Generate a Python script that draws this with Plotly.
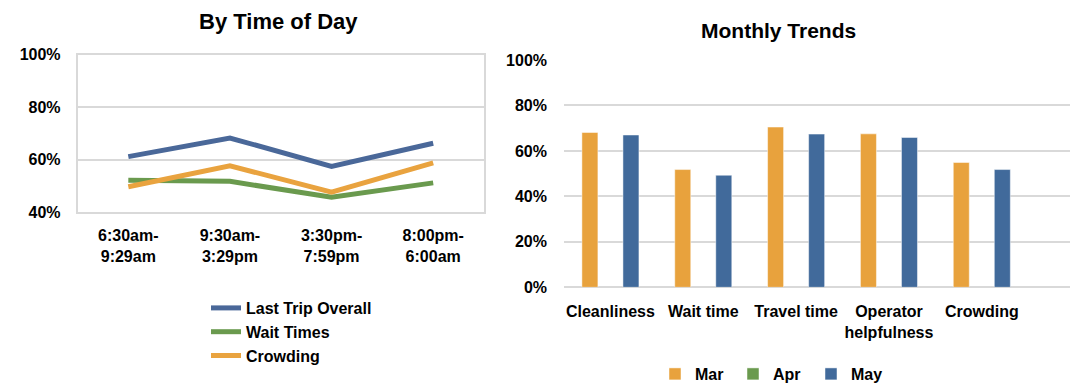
import plotly.graph_objects as go

# ---- Data ----
time_slots = ["6:30am-<br>9:29am", "9:30am-<br>3:29pm", "3:30pm-<br>7:59pm", "8:00pm-<br>6:00am"]
last_trip_overall = [0.612, 0.683, 0.575, 0.663]
wait_times = [0.522, 0.518, 0.457, 0.512]
crowding_tod = [0.497, 0.577, 0.477, 0.588]

metrics = ["Cleanliness", "Wait time", "Travel time", "Operator<br>helpfulness", "Crowding"]
mar_vals = [0.681, 0.518, 0.705, 0.675, 0.549]
apr_vals = [None, None, None, None, None]
may_vals = [0.670, 0.493, 0.674, 0.659, 0.518]

# ---- Styles ----
BLUE_LINE = "#4A6899"
GREEN_LINE = "#6A9A4E"
ORANGE_LINE = "#E9A33F"
BAR_ORANGE = "#E8A23D"
BAR_GREEN = "#6A9A4E"
BAR_BLUE = "#416A9B"
GRID = "#D9D9D9"
FONT = "Liberation Sans, Arial, sans-serif"

fig = go.Figure()

line_series = [
    ("Last Trip Overall", last_trip_overall, BLUE_LINE),
    ("Wait Times", wait_times, GREEN_LINE),
    ("Crowding", crowding_tod, ORANGE_LINE),
]
for name, vals, col in line_series:
    fig.add_trace(go.Scatter(
        x=time_slots, y=vals, name=name, mode="lines",
        line=dict(color=col, width=5),
        xaxis="x", yaxis="y", legend="legend",
    ))

bar_series = [
    ("Mar", mar_vals, BAR_ORANGE),
    ("Apr", apr_vals, BAR_GREEN),
    ("May", may_vals, BAR_BLUE),
]
for name, vals, col in bar_series:
    fig.add_trace(go.Bar(
        x=metrics, y=vals, name=name,
        marker=dict(color=col, line=dict(color="rgba(255,255,255,0.6)", width=0.8)),
        xaxis="x2", yaxis="y2", legend="legend2",
    ))

W, H = 1070, 383

fig.update_layout(
    width=W, height=H,
    margin=dict(l=0, r=0, t=0, b=0, autoexpand=False),
    paper_bgcolor="white", plot_bgcolor="white",
    font=dict(family=FONT, size=16, color="#000000", weight="bold"),
    barmode="group", bargap=0.337, bargroupgap=0.22,
    showlegend=True,
    xaxis=dict(
        domain=[77.5 / W, 484 / W], anchor="y", automargin=False,
        showgrid=False, showline=True, mirror=True, linecolor=GRID, linewidth=1.5,
        ticks="", ticklabelstandoff=8, tickfont=dict(size=16),
        range=[-0.5, 3.5],
    ),
    yaxis=dict(
        domain=[1 - 212.3 / H, 1 - 54.7 / H], anchor="x", automargin=False,
        range=[0.4, 1.0], dtick=0.2, tickformat=".0%",
        showgrid=True, gridcolor=GRID, gridwidth=1.5,
        showline=True, mirror=True, linecolor=GRID, linewidth=1.5,
        zeroline=False, ticks="", ticklabelstandoff=12, tickfont=dict(size=16),
    ),
    xaxis2=dict(
        domain=[564 / W, 1.0], anchor="y2", automargin=False,
        showgrid=False, showline=False, ticks="",
        range=[-0.5, 4.95], ticklabelstandoff=13, tickfont=dict(size=16),
    ),
    yaxis2=dict(
        domain=[1 - 287.3 / H, 1 - 60 / H], anchor="x2", automargin=False,
        range=[0, 1.0], dtick=0.2, tickformat=".0%",
        showgrid=True, gridcolor=GRID, gridwidth=1.5,
        zeroline=True, zerolinecolor=GRID, zerolinewidth=2,
        showline=False, ticks="", ticklabelstandoff=16, tickfont=dict(size=16),
    ),
    legend=dict(
        x=206 / W, y=1 - 291 / H, xanchor="left", yanchor="top",
        orientation="v", font=dict(size=16), bgcolor="rgba(0,0,0,0)",
        tracegroupgap=0, itemwidth=30,
    ),
    legend2=dict(
        x=772 / W, y=1 - 374 / H, xanchor="center", yanchor="middle",
        orientation="h", font=dict(size=16), bgcolor="rgba(0,0,0,0)",
        itemwidth=30, entrywidth=33,
    ),
    annotations=[
        dict(text="By Time of Day", x=278 / W, y=1 - 21 / H, xref="paper", yref="paper",
             xanchor="center", yanchor="middle", showarrow=False, font=dict(size=22)),
        dict(text="Monthly Trends", x=778 / W, y=1 - 31 / H, xref="paper", yref="paper",
             xanchor="center", yanchor="middle", showarrow=False, font=dict(size=21)),
    ],
)

fig.write_html("out.html")
